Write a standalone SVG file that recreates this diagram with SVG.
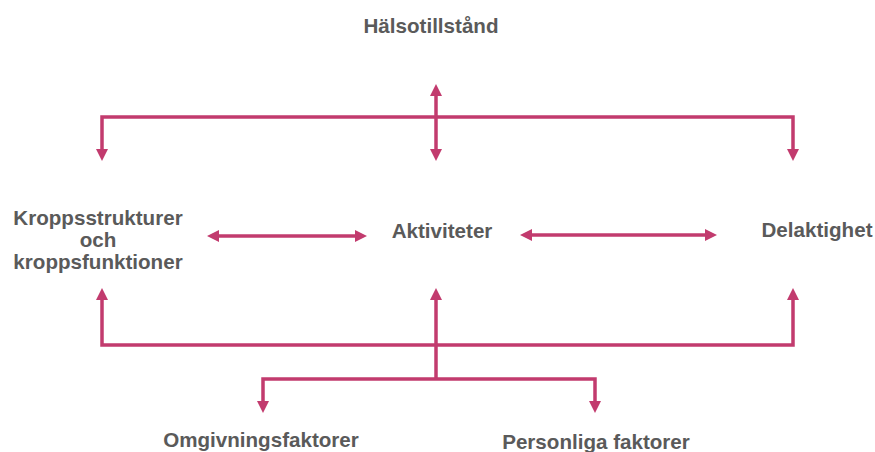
<svg xmlns="http://www.w3.org/2000/svg" width="875" height="452" viewBox="0 0 875 452">
  <defs>
    <marker id="ah" viewBox="0 0 12 12" refX="2" refY="6" markerWidth="12" markerHeight="12" markerUnits="userSpaceOnUse" orient="auto-start-reverse">
      <path d="M0,0 L12,6 L0,12 z" fill="#c23b6e"/>
    </marker>
  </defs>
  <style>
    .lbl { font-family: "Liberation Sans", Arial, sans-serif; font-weight: bold; font-size: 20.6px; fill: #5a5a5a; text-anchor: middle; }
    .con { fill: none; stroke: #c23b6e; stroke-width: 3.5; marker-start: url(#ah); marker-end: url(#ah); }
  </style>
  <rect width="875" height="452" fill="#ffffff"/>
  <g id="connectors">
    <path class="con" d="M102,151 V117 H793 V151"/>
    <path class="con" d="M436,94 V151"/>
    <path class="con" d="M217,236 H357"/>
    <path class="con" d="M530,235 H707"/>
    <path class="con" d="M102,298 V345 H793 V298"/>
    <path class="con" d="M436,298 V379" style="marker-end:none"/>
    <path class="con" d="M263,403 V379 H595 V403"/>
  </g>
  <g id="halsotillstand"><text class="lbl" x="431" y="33">Hälsotillstånd</text></g>
  <g id="kropp">
    <text class="lbl" x="98" y="225">Kroppsstrukturer</text>
    <text class="lbl" x="98" y="247">och</text>
    <text class="lbl" x="98" y="269">kroppsfunktioner</text>
  </g>
  <g id="aktiviteter"><text class="lbl" x="442" y="238">Aktiviteter</text></g>
  <g id="delaktighet"><text class="lbl" x="817" y="237">Delaktighet</text></g>
  <g id="omgivning"><text class="lbl" x="261" y="447">Omgivningsfaktorer</text></g>
  <g id="personliga"><text class="lbl" x="596" y="449">Personliga faktorer</text></g>
</svg>
